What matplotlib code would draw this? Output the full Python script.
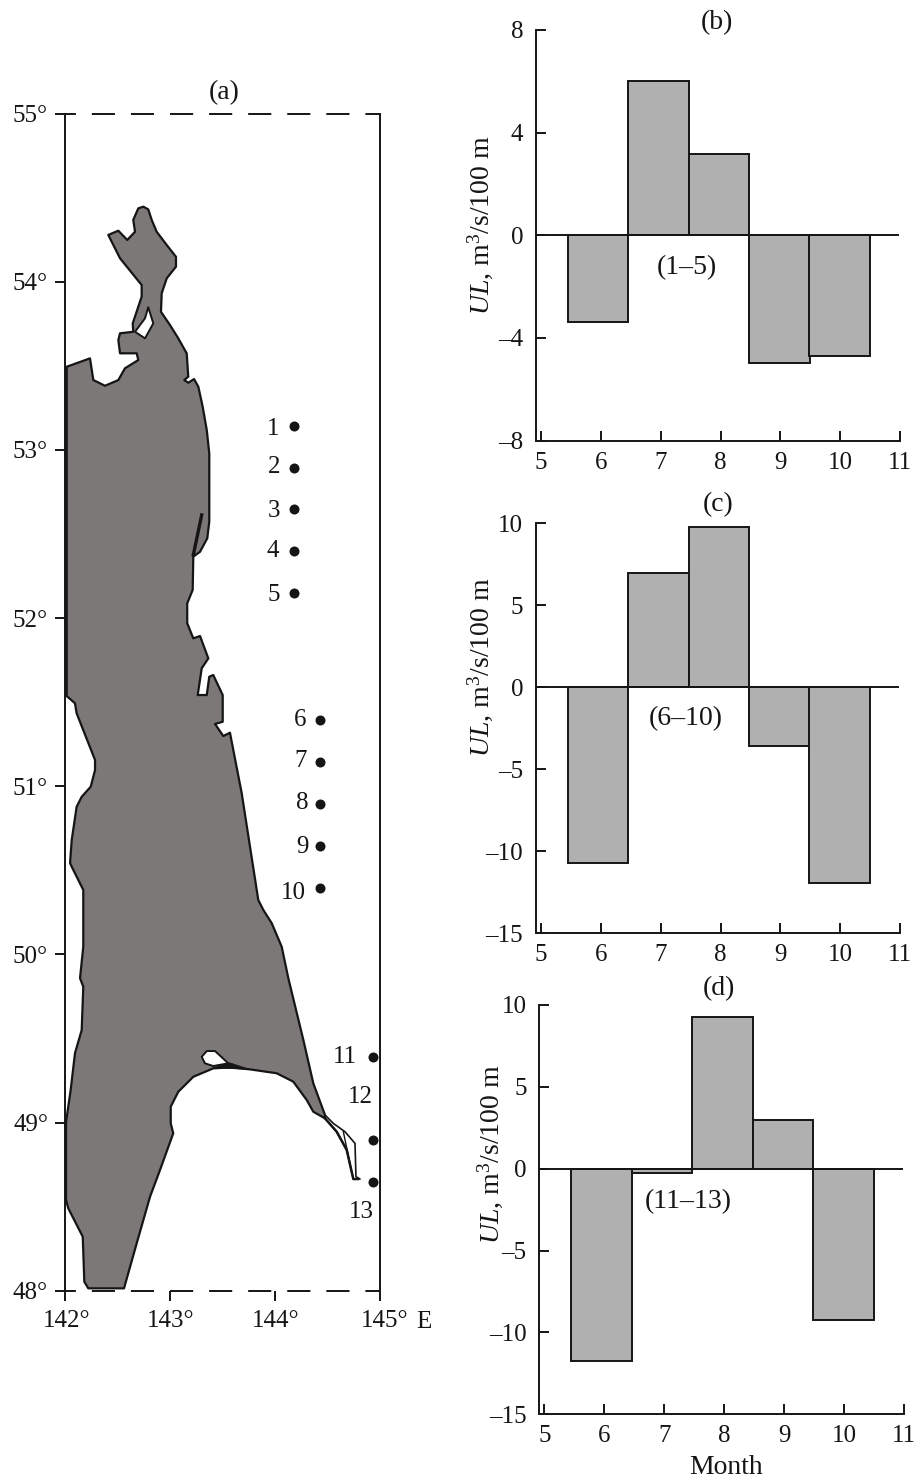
import matplotlib
matplotlib.use('Agg')
import matplotlib.pyplot as plt
from matplotlib.transforms import ScaledTranslation

plt.rcParams['font.family'] = ['Liberation Serif', 'DejaVu Serif']
plt.rcParams['mathtext.fontset'] = 'custom'
plt.rcParams['mathtext.rm'] = 'Liberation Serif'
plt.rcParams['mathtext.it'] = 'Liberation Serif:italic'

# coast of the island, lon/lat
coast_lon = [
    142.698, 142.746, 142.793, 142.826, 142.873, 142.969, 143.057, 143.057, 142.969, 142.921,
    142.914, 143.000, 143.079, 143.159, 143.174, 143.136, 143.174, 143.229, 143.270, 143.311,
    143.350, 143.374, 143.374, 143.355, 143.286, 143.222, 143.216, 143.164, 143.164, 143.222,
    143.286, 143.365, 143.302, 143.264, 143.350, 143.374, 143.412, 143.502, 143.502, 143.429,
    143.508, 143.571, 143.603, 143.683, 143.762, 143.841, 143.889, 143.969, 144.064, 144.127,
    144.270, 144.365, 144.476, 144.476, 144.365, 144.302, 144.174, 144.016, 143.762, 143.571,
    143.412, 143.222, 143.079, 143.007, 143.007, 143.031, 142.905, 142.810, 142.683, 142.562,
    142.222, 142.184, 142.169, 142.031, 142.010, 142.010, 142.054, 142.095, 142.159, 142.174,
    142.143, 142.174, 142.174, 142.064, 142.048, 142.064, 142.111, 142.159, 142.245, 142.286,
    142.286, 142.111, 142.095, 142.016, 142.016, 142.238, 142.270, 142.381, 142.508, 142.571,
    142.698, 142.683, 142.524, 142.508, 142.524, 142.650, 142.645, 142.730, 142.730, 142.524,
    142.412, 142.508, 142.593, 142.667, 142.650,
]
coast_lat = [
    54.436, 54.446, 54.430, 54.367, 54.297, 54.218, 54.148, 54.089, 54.020, 53.931,
    53.821, 53.742, 53.663, 53.574, 53.435, 53.415, 53.399, 53.421, 53.375, 53.257,
    53.118, 52.979, 52.573, 52.474, 52.394, 52.365, 52.167, 52.087, 51.969, 51.879,
    51.893, 51.760, 51.701, 51.542, 51.542, 51.651, 51.661, 51.542, 51.383, 51.370,
    51.298, 51.318, 51.215, 50.958, 50.640, 50.323, 50.264, 50.185, 50.045, 49.858,
    49.491, 49.233, 49.045, 49.025, 49.064, 49.134, 49.243, 49.293, 49.316, 49.328,
    49.322, 49.272, 49.183, 49.094, 48.995, 48.936, 48.718, 48.559, 48.282, 48.014,
    48.014, 48.053, 48.321, 48.490, 48.539, 49.003, 49.193, 49.412, 49.550, 49.808,
    49.858, 50.045, 50.383, 50.521, 50.543, 50.680, 50.878, 50.937, 50.997, 51.096,
    51.156, 51.433, 51.493, 51.536, 53.494, 53.544, 53.415, 53.381, 53.415, 53.485,
    53.534, 53.574, 53.574, 53.653, 53.693, 53.702, 53.752, 53.911, 53.980, 54.139,
    54.278, 54.303, 54.248, 54.297, 54.367,
]
# bay inside the northern neck
bay_lon = [142.793, 142.841, 142.762, 142.667, 142.762]
bay_lat = [53.848, 53.752, 53.663, 53.702, 53.782]
# lagoon above the southern gulf
lagoon_lon = [143.302, 143.350, 143.429, 143.555, 143.412, 143.333]
lagoon_lat = [49.391, 49.425, 49.425, 49.352, 49.336, 49.352]
# black sliver under the lagoon
sliver_lon = [143.41, 143.57, 143.76]
sliver_lat = [49.325, 49.355, 49.316]
# sand spit at 52.5 N
spit_lon = [143.302, 143.222]
spit_lat = [52.613, 52.375]
# cape in the south east
cape_lon = [144.476, 144.555, 144.667, 144.762, 144.771, 144.810, 144.746, 144.683, 144.588, 144.476]
cape_lat = [49.045, 48.995, 48.945, 48.876, 48.678, 48.664, 48.664, 48.837, 48.945, 49.025]
cape_west_lon = [144.476, 144.588, 144.683, 144.746, 144.790]
cape_west_lat = [49.025, 48.945, 48.837, 48.664, 48.664]
cape_inner_lon = [144.651, 144.730]
cape_inner_lat = [48.945, 48.707]

# stations
station_num = ['1', '2', '3', '4', '5', '6', '7', '8', '9', '10', '11', '12', '13']
station_lon = [144.18, 144.18, 144.18, 144.18, 144.18, 144.43, 144.43, 144.43, 144.43, 144.43, 144.936, 144.936, 144.936]
station_lat = [53.144, 52.894, 52.646, 52.398, 52.151, 51.392, 51.144, 50.894, 50.646, 50.396, 49.391, 48.896, 48.648]

# bars
months = [5.953, 6.965, 7.975, 8.985, 9.99]
month_ticks = [5, 6, 7, 8, 9, 10, 11]
ul_b = [-3.38, 6.0, 3.16, -4.97, -4.71]
ul_c = [-10.73, 6.99, 9.8, -3.6, -11.95]
ul_d = [-11.73, -0.28, 9.29, 2.97, -9.25]
yticks_b = [-8, -4, 0, 4, 8]
yticks_cd = [-15, -10, -5, 0, 5, 10]

W, H = 914, 1480
FS = 20
FS_TICK = 18
LW = 1.4
DARK = '#151515'

# pixel offsets of the station numbers from their dots
label_dx = [-21, -20, -20, -21, -20, -20, -20, -18, -18, -27, -28, -13, -12]
label_dy = [-3, 1, -2, 0, -2, 0, 1, 1, -1, -5, 0, 43, -30]
# pixel shift of the longitude labels
lon_label_dx = [2, 1, 1, 5]


def add_axes_px(left, top, right, bottom):
    return fig.add_axes([left / W, 1 - bottom / H, (right - left) / W, (bottom - top) / H])


def put_text(x, y, s, size=FS, **kw):
    fig.text(x / W, 1 - y / H, s, fontsize=size, ha='center', va='center', color=DARK, **kw)


def bar_panel(box, values, yticks, tag, tag_xy, inner, inner_xy, label_xy):
    ax = add_axes_px(*box)
    ax.bar(months, values, width=1.01, color='#b0b0b0', edgecolor=DARK, linewidth=LW, zorder=2)
    ax.axhline(0, color=DARK, linewidth=LW, xmax=0.995, zorder=3)
    ax.set_xlim(4.911, 11)
    ax.set_ylim(yticks[0], yticks[-1])
    for side in ['top', 'right']:
        ax.spines[side].set_visible(False)
    for side in ['left', 'bottom']:
        ax.spines[side].set_linewidth(LW)
        ax.spines[side].set_color(DARK)
    ax.spines['bottom'].set_bounds(5, 11)
    ax.set_xticks(month_ticks)
    ax.set_yticks(yticks)
    ax.set_yticklabels([str(v).replace('-', '\u2013') for v in yticks])
    ax.tick_params(axis='both', direction='in', length=7.2, width=LW, color=DARK,
                   labelsize=FS_TICK, labelcolor=DARK)
    ax.tick_params(axis='y', pad=9)
    ax.tick_params(axis='x', pad=8)
    put_text(tag_xy[0], tag_xy[1], tag)
    put_text(inner_xy[0], inner_xy[1], inner)
    put_text(label_xy[0], label_xy[1], r'$\mathit{UL}$, m$^3$/s/100 m', rotation=90)
    return ax


fig = plt.figure(figsize=(W / 100, H / 100), dpi=100)

# (a) map
ax = add_axes_px(65, 113.5, 380, 1290.7)
ax.fill(coast_lon, coast_lat, facecolor='#7c7877', edgecolor=DARK, linewidth=1.6,
        joinstyle='round', clip_on=False, zorder=2)
ax.fill(bay_lon, bay_lat, facecolor='white', edgecolor=DARK, linewidth=1.4, joinstyle='round', zorder=3)
ax.fill(lagoon_lon, lagoon_lat, facecolor='white', edgecolor=DARK, linewidth=1.4, joinstyle='round', zorder=3)
ax.fill(sliver_lon, sliver_lat, facecolor=DARK, edgecolor=DARK, linewidth=0.5, zorder=3)
ax.plot(spit_lon, spit_lat, color=DARK, linewidth=2.4, zorder=3)
ax.plot(cape_lon, cape_lat, color=DARK, linewidth=1.2, zorder=3)
ax.plot(cape_west_lon, cape_west_lat, color=DARK, linewidth=1.8, zorder=3)
ax.plot(cape_inner_lon, cape_inner_lat, color=DARK, linewidth=1.0, zorder=3)
ax.scatter(station_lon, station_lat, s=52, color=DARK, linewidths=0, zorder=4)
for num, lon, lat, dx, dy in zip(station_num, station_lon, station_lat, label_dx, label_dy):
    ax.annotate(num, (lon, lat), xytext=(dx, dy), textcoords='offset pixels',
                ha='center', va='center', fontsize=FS_TICK, color=DARK)
ax.set_xlim(142, 145)
ax.set_ylim(48, 55)
ax.set_xticks([142, 143, 144, 145])
ax.set_xticklabels(['142\u00b0', '143\u00b0', '144\u00b0', '145\u00b0'])
ax.set_yticks([48, 49, 50, 51, 52, 53, 54, 55])
ax.set_yticklabels([f'{v}\u00b0' for v in range(48, 56)])
ax.tick_params(axis='both', direction='out', length=7.2, width=LW, color=DARK,
               labelsize=FS_TICK, labelcolor=DARK, pad=5)
ax.tick_params(axis='x', pad=7)
for label, dx in zip(ax.get_xticklabels(), lon_label_dx):
    label.set_transform(label.get_transform() + ScaledTranslation(dx / 100, 0, fig.dpi_scale_trans))
for side in ax.spines:
    ax.spines[side].set_linewidth(LW)
    ax.spines[side].set_color(DARK)
for side in ['top', 'bottom']:
    ax.spines[side].set_linestyle((6.3, (11.9, 8.2)))
    ax.spines[side].set_capstyle('butt')
put_text(224, 93, '(a)')
put_text(423.5, 1321.7, 'E', size=FS_TICK)

bar_panel((535.7, 30, 900, 440.5), ul_b, yticks_b, '(b)', (717, 22.7), '(1\u20135)', (687, 267.7), (480, 225))
bar_panel((535.7, 523.3, 900, 933.3), ul_c, yticks_cd, '(c)', (718, 505), '(6\u201310)', (686, 719), (480, 667))
bar_panel((539, 1005, 904, 1414.3), ul_d, yticks_cd, '(d)', (719, 989), '(11\u201313)', (688, 1201.7), (490, 1154))
put_text(725.7, 1468, 'Month')

fig.savefig('out.png', dpi=100)
